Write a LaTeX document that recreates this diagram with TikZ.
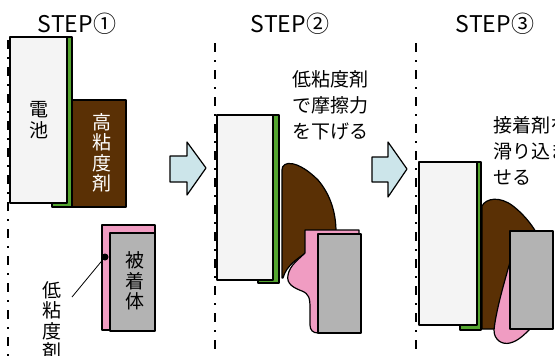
\documentclass[tikz,border=0pt]{standalone}
\usepackage{fontspec}
\setmainfont{Noto Sans CJK JP}
\usetikzlibrary{positioning}

\definecolor{cellgray}{HTML}{F4F4F4}
\definecolor{tabgreen}{HTML}{55A630}
\definecolor{gluebrown}{HTML}{5A3005}
\definecolor{lowpink}{HTML}{F09CC2}
\definecolor{partgray}{HTML}{B3B3B3}
\definecolor{arrowblue}{HTML}{CCE5EA}

\begin{document}
\begin{tikzpicture}[x=1pt,y=-1pt,
  outl/.style={draw=black,line width=1.2pt,line join=round},
  centerline/.style={black,line width=2.2pt,dash pattern=on 9pt off 8pt on 2pt off 8pt},
  steplbl/.style={font=\fontsize{23}{23}\selectfont,anchor=base,inner sep=0pt},
  vtxt/.style={font=\fontsize{19}{20.5}\selectfont,align=center,inner sep=0pt},
  note/.style={font=\fontsize{19}{26}\selectfont,align=left,anchor=north west,inner sep=0pt}]

\useasboundingbox (0,0) rectangle (555,356);
\clip (0,0) rectangle (555,356);

% step labels
\node[steplbl] (s1) at (77,32) {STEP①};
\node[steplbl] (s2) at (290,32) {STEP②};
\node[steplbl] (s3) at (495,32) {STEP③};

% centre lines
\draw[centerline] (8,40) -- (8,356);
\draw[centerline] (215,43) -- (215,356);
\draw[centerline] (416,43) -- (416,356);

%%% STEP 1
\draw[outl,fill=tabgreen] (52,37) rectangle (72,207);
\draw[outl,fill=cellgray] (10,37) rectangle (67,203);
\node[vtxt] (cell1) at (39,120) {電\\池};
\draw[outl,fill=gluebrown] (72,100) rectangle (126,207);
\node[vtxt,text=white] (hv) at (102,153) {高\\粘\\度\\剤};
\draw[outl,fill=lowpink] (102,225) rectangle (155,330);
\draw[outl,fill=partgray] (110,233) rectangle (155,331);
\node[vtxt] (part1) at (135,281) {被\\着\\体};
\node[circle,fill=black,inner sep=0pt,minimum size=7pt] (dot) at (105,257) {};
\coordinate (lead) at (72,297);
\draw[black,line width=0.8pt] (dot) -- (lead);
\node[vtxt,anchor=north] (lv) at (52,281) {低\\粘\\度\\剤};

% arrow 1
\draw[outl,fill=arrowblue] (170,156) -- (187,156) -- (187,142) -- (206,168)
  -- (187,195) -- (187,182) -- (170,182) -- cycle;

%%% STEP 2
\draw[outl,fill=tabgreen] (258,115) rectangle (279,283);
\draw[outl,fill=cellgray] (217,115) rectangle (273,280);
\draw[outl,fill=gluebrown] (282,278) -- (282,170)
  .. controls (282,160) and (298,160) .. (318,180)
  .. controls (330,194) and (336,212) .. (336,232)
  -- (306,232) -- (306,253)
  .. controls (298,258) and (286,266) .. (283,278) -- cycle;
\draw[outl,fill=lowpink] (305,230) -- (359,230) -- (359,333) -- (318,333)
  .. controls (313,333) and (310,330) .. (310,325) -- (310,308)
  .. controls (310,298) and (309,294) .. (302,291)
  .. controls (294,288) and (286,284) .. (288,275)
  .. controls (290,265) and (298,260) .. (305,253) -- cycle;
\draw[outl,fill=partgray] (318,234) rectangle (361,333);
\node[note] (n2) at (292,70) {低粘度剤\\で摩擦力\\を下げる};

% arrow 2
\draw[outl,fill=arrowblue] (372,157) -- (388,157) -- (388,142) -- (407,169)
  -- (388,197) -- (388,182) -- (372,182) -- cycle;

%%% STEP 3
\draw[outl,fill=tabgreen] (460,162) rectangle (481,330);
\draw[outl,fill=cellgray] (419,162) rectangle (477,325);
\draw[outl,fill=gluebrown] (482,329) -- (482,206)
  .. controls (486,198) and (500,196) .. (513,206)
  .. controls (522,213) and (530,222) .. (536,232)
  -- (536,329) -- cycle;
\draw[outl,fill=lowpink] (510,262)
  .. controls (505,280) and (496,310) .. (494,330)
  .. controls (494,340) and (502,345) .. (510,343)
  .. controls (518,341) and (524,335) .. (530,329)
  -- (530,262) -- cycle;
\draw[outl,fill=partgray] (510,231) rectangle (553,329);
\node[note] (n3) at (493,116) {接着剤を\\滑り込ま\\せる};

\end{tikzpicture}
\end{document}
